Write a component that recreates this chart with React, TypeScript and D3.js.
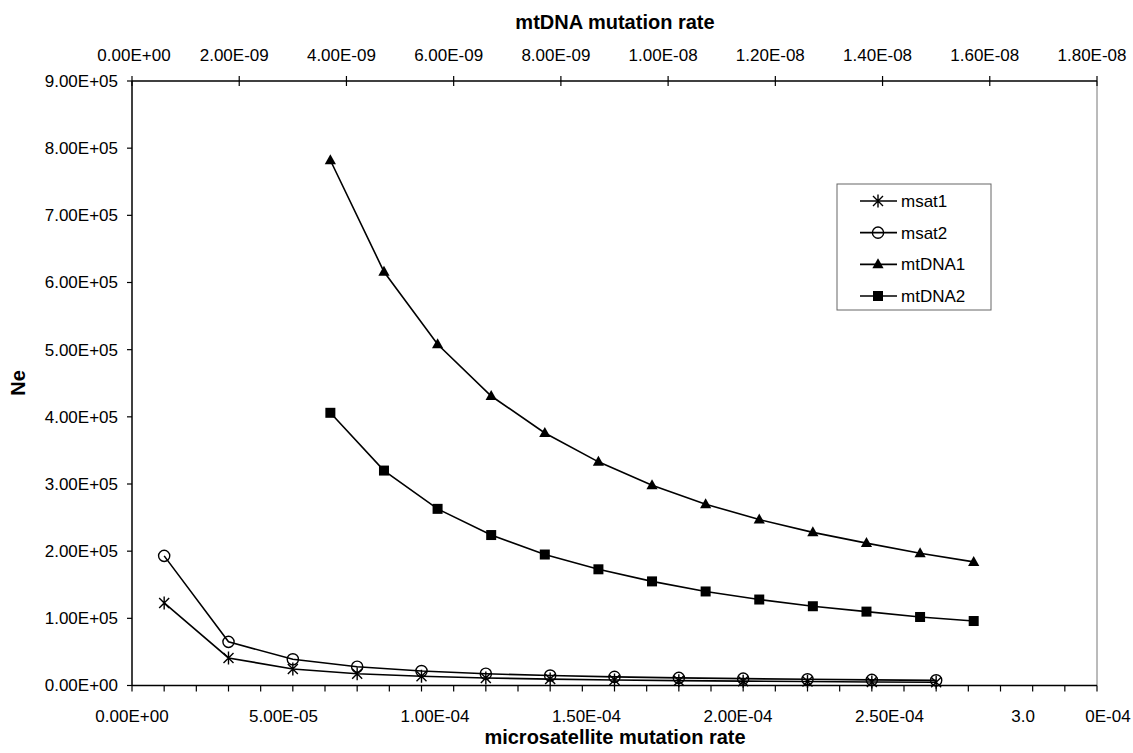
import React from "react";
import * as d3 from "d3";

// microsatellite series (bottom axis)
const msatRate = [1e-5, 3e-5, 5e-5, 7e-5, 9e-5, 1.1e-4, 1.3e-4, 1.5e-4, 1.7e-4, 1.9e-4, 2.1e-4, 2.3e-4, 2.5e-4];
const msat1 = [123000, 41000, 24600, 17600, 13700, 11200, 9500, 8200, 7200, 6500, 5900, 5300, 4900];
const msat2 = [193000, 65000, 39000, 28000, 21500, 17500, 14800, 12900, 11400, 10200, 9200, 8400, 7700];

// mtDNA series (top axis)
const mtRate = [3.7e-9, 4.7e-9, 5.7e-9, 6.7e-9, 7.7e-9, 8.7e-9, 9.7e-9, 1.07e-8, 1.17e-8, 1.27e-8, 1.37e-8, 1.47e-8, 1.57e-8];
const mtDNA1 = [782000, 616000, 508000, 431000, 376000, 333000, 298000, 270000, 247000, 228000, 212000, 197000, 184000];
const mtDNA2 = [406000, 320000, 263000, 224000, 195000, 173000, 155000, 140000, 128000, 118000, 110000, 102000, 96000];

const bottomTicks = ["0.00E+00", "5.00E-05", "1.00E-04", "1.50E-04", "2.00E-04", "2.50E-04", "3.00E-04"];
const topTicks = ["0.00E+00", "2.00E-09", "4.00E-09", "6.00E-09", "8.00E-09", "1.00E-08", "1.20E-08", "1.40E-08", "1.60E-08", "1.80E-08"];
const yTicks = ["0.00E+00", "1.00E+05", "2.00E+05", "3.00E+05", "4.00E+05", "5.00E+05", "6.00E+05", "7.00E+05", "8.00E+05", "9.00E+05"];

const legendNames = ["msat1", "msat2", "mtDNA1", "mtDNA2"];

const W = 1133;
const H = 753;
const left = 132, right = 1097, top = 81, bottom = 685.5;
const font = "'Liberation Sans', Arial, sans-serif";

const xB = d3.scaleLinear().domain([0, 3e-4]).range([left, right]);
const xT = d3.scaleLinear().domain([0, 1.8e-8]).range([left, right]);
const y = d3.scaleLinear().domain([0, 9e5]).range([bottom, top]);
// the bottom labels sit slightly compressed relative to their ticks in the original
const xBLabel = d3.scaleLinear().domain([0, 3e-4]).range([left, left + (right - left) * 0.942]);

type Marker = "star" | "circle" | "tri" | "square";

function MarkerShape({ kind, x, yy }: { kind: Marker; x: number; yy: number }) {
  if (kind === "star") {
    return (
      <path
        transform={`translate(${x},${yy})`}
        d="M0,-6.5V6.5M-5,-5L5,5M-5,5L5,-5"
        stroke="#000"
        strokeWidth={1.4}
        fill="none"
      />
    );
  }
  if (kind === "circle") {
    return <circle cx={x} cy={yy} r={5.6} fill="none" stroke="#000" strokeWidth={1.4} />;
  }
  if (kind === "tri") {
    return <path transform={`translate(${x},${yy})`} d="M0,-6L5.6,4L-5.6,4Z" fill="#000" />;
  }
  return <rect x={x - 5} y={yy - 5} width={10} height={10} fill="#000" />;
}

export default function App() {
  const lineB = d3.line<[number, number]>().x((d) => xB(d[0])).y((d) => y(d[1]));
  const lineT = d3.line<[number, number]>().x((d) => xT(d[0])).y((d) => y(d[1]));

  const series: { pts: [number, number][]; kind: Marker; gen: typeof lineB; sx: (v: number) => number }[] = [
    { pts: msatRate.map((r, i) => [r, msat1[i]]), kind: "star", gen: lineB, sx: xB },
    { pts: msatRate.map((r, i) => [r, msat2[i]]), kind: "circle", gen: lineB, sx: xB },
    { pts: mtRate.map((r, i) => [r, mtDNA1[i]]), kind: "tri", gen: lineT, sx: xT },
    { pts: mtRate.map((r, i) => [r, mtDNA2[i]]), kind: "square", gen: lineT, sx: xT },
  ];

  const minorB = d3.range(0, 31).map((i) => i * 1e-5);
  const yVals = yTicks.map((_, i) => i * 1e5);
  const topVals = topTicks.map((_, i) => i * 2e-9);
  const bottomVals = bottomTicks.map((_, i) => i * 5e-5);

  const legX = 837, legY = 184, legW = 154, legH = 126;
  const rowY = d3.scaleLinear().domain([0, 3]).range([201, 296]);

  return (
    <svg
      width={W}
      height={H}
      style={{ position: "absolute", left: 0, top: 0, background: "#fff" }}
      fontFamily={font}
    >
      <rect width={W} height={H} fill="#fff" />

      {/* right border */}
      <line x1={right} x2={right} y1={top} y2={bottom} stroke="#777" strokeWidth={1} />

      {/* left axis */}
      <line x1={left} x2={left} y1={top} y2={bottom} stroke="#000" strokeWidth={1.5} />
      {yVals.map((v, i) => (
        <g key={"y" + i}>
          <line x1={left - 5} x2={left} y1={y(v)} y2={y(v)} stroke="#000" strokeWidth={1.2} />
          <text x={118} y={y(v)} dy="0.35em" textAnchor="end" fontSize={17}>
            {yTicks[i]}
          </text>
        </g>
      ))}

      {/* top axis */}
      <line x1={left} x2={right} y1={top} y2={top} stroke="#000" strokeWidth={1.5} />
      {topVals.map((v, i) => (
        <g key={"t" + i}>
          <line x1={xT(v)} x2={xT(v)} y1={top - 5} y2={top + 5} stroke="#000" strokeWidth={1.2} />
          <text x={xT(v) - (i === 0 ? -2 : 5)} y={61} textAnchor="middle" fontSize={17}>
            {topTicks[i]}
          </text>
        </g>
      ))}

      {/* bottom axis */}
      <line x1={left} x2={right} y1={bottom} y2={bottom} stroke="#000" strokeWidth={1.5} />
      {minorB.map((v, i) => (
        <line key={"b" + i} x1={xB(v)} x2={xB(v)} y1={bottom} y2={bottom + 6} stroke="#000" strokeWidth={1.2} />
      ))}
      {bottomVals.map((v, i) =>
        i < bottomVals.length - 1 ? (
          <text key={"bl" + i} x={xBLabel(v)} y={722} textAnchor="middle" fontSize={17}>
            {bottomTicks[i]}
          </text>
        ) : (
          <g key={"bl" + i}>
            <text x={xBLabel(v) - 18} y={722} textAnchor="middle" fontSize={17}>
              {bottomTicks[i].slice(0, 3)}
            </text>
            <text x={xBLabel(v) + 67} y={722} textAnchor="middle" fontSize={17}>
              {bottomTicks[i].slice(3)}
            </text>
          </g>
        )
      )}

      {/* titles */}
      <text x={615} y={29} textAnchor="middle" fontSize={20} fontWeight="bold">
        mtDNA mutation rate
      </text>
      <text x={615} y={744} textAnchor="middle" fontSize={20} fontWeight="bold">
        microsatellite mutation rate
      </text>
      <text
        transform={`translate(25,383) rotate(-90)`}
        textAnchor="middle"
        fontSize={20}
        fontWeight="bold"
      >
        Ne
      </text>

      {/* series */}
      {series.map((s, si) => (
        <g key={"s" + si}>
          <path d={s.gen(s.pts) || ""} fill="none" stroke="#000" strokeWidth={1.6} />
          {s.pts.map((p, pi) => (
            <MarkerShape key={pi} kind={s.kind} x={s.sx(p[0])} yy={y(p[1])} />
          ))}
        </g>
      ))}

      {/* legend */}
      <rect x={legX} y={legY} width={legW} height={legH} fill="#fff" stroke="#666" strokeWidth={1} />
      {legendNames.map((n, i) => (
        <g key={"l" + i}>
          <line x1={860} x2={897} y1={rowY(i)} y2={rowY(i)} stroke="#000" strokeWidth={1.6} />
          <MarkerShape kind={series[i].kind} x={878} yy={rowY(i)} />
          <text x={901} y={rowY(i)} dy="0.35em" fontSize={17}>
            {n}
          </text>
        </g>
      ))}
    </svg>
  );
}
